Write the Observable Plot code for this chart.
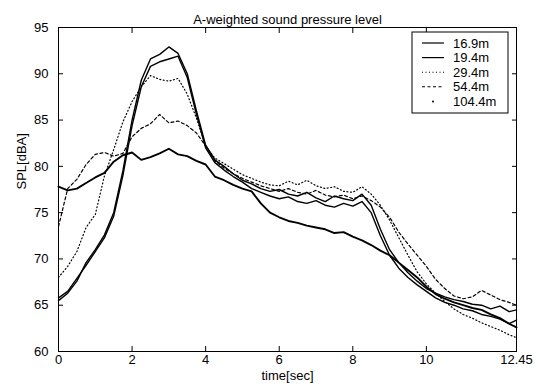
<!DOCTYPE html>
<html>
<head>
<meta charset="utf-8">
<script src="https://cdn.jsdelivr.net/npm/d3@7"></script>
<script src="https://cdn.jsdelivr.net/npm/@observablehq/plot@0.6"></script>
<style>
  html, body { margin: 0; padding: 0; background: #fff; }
  #chart svg { display: block; }
</style>
</head>
<body>
<div id="chart"></div>
<script>
// ---- data ----
const title = "A-weighted sound pressure level";
const xLabel = "time[sec]";
const yLabel = "SPL[dBA]";
const seriesNames = ["16.9m", "19.4m", "29.4m", "54.4m", "104.4m"];
const xTicks = [0, 2, 4, 6, 8, 10, 12.45];
const yTicks = [60, 65, 70, 75, 80, 85, 90, 95];

const time = [0, 0.25, 0.5, 0.75, 1, 1.25, 1.5, 1.75, 2, 2.25, 2.5, 2.75, 3, 3.25, 3.5, 3.75,
  4, 4.25, 4.5, 4.75, 5, 5.25, 5.5, 5.75, 6, 6.25, 6.5, 6.75, 7, 7.25, 7.5, 7.75,
  8, 8.25, 8.5, 8.75, 9, 9.25, 9.5, 9.75, 10, 10.25, 10.5, 10.75, 11, 11.25, 11.5, 11.75,
  12, 12.25, 12.45];

const spl169 = [65.5, 66.3, 67.6, 69.6, 71.0, 72.6, 75.0, 79.5, 85.0, 89.3, 91.6, 92.1, 92.9, 92.2, 90.0, 86.0,
  82.3, 80.7, 80.0, 79.2, 78.5, 78.1, 77.6, 77.3, 77.5, 77.0, 76.8, 77.2, 76.6, 76.2, 76.8, 76.5,
  76.3, 77.0, 75.8, 73.2, 71.0, 69.6, 68.5, 67.6, 66.8, 66.3, 65.9, 65.6, 65.4, 65.1, 65.0, 64.6,
  64.9, 64.3, 64.5];

const spl194 = [65.8, 66.5, 67.9, 69.3, 70.8, 72.3, 74.6, 79.0, 84.4, 88.6, 90.8, 91.3, 91.6, 91.9, 89.6, 85.6,
  82.0, 80.4, 79.6, 78.9, 78.3, 77.6, 77.2, 76.8, 76.5, 76.7, 76.2, 76.0, 76.3, 75.8, 75.6, 76.0,
  75.7, 76.2, 75.0, 72.5, 70.4, 69.0, 68.0, 67.2, 66.5, 65.8, 65.3, 65.0, 64.6, 64.4, 64.0, 63.8,
  63.5, 63.0, 63.4];

const spl294 = [68.0, 69.2, 70.8, 73.4, 74.8, 79.0, 81.8, 84.8, 87.0, 88.6, 89.8, 89.4, 89.2, 89.5, 87.8, 85.2,
  82.2, 80.9, 80.3, 79.7, 79.1, 78.7, 78.3, 78.0, 77.9, 78.4, 78.0, 78.5, 77.9, 77.6, 77.8, 77.3,
  77.2, 77.8, 77.0, 75.8, 74.2, 72.3, 70.4, 68.6, 67.3, 66.3, 65.4, 64.6, 64.0, 63.6, 63.1, 62.7,
  62.3, 61.8, 61.5];

const spl544 = [73.5, 77.6, 78.6, 80.2, 81.3, 81.5, 81.1, 81.4, 83.2, 84.1, 84.6, 85.6, 84.7, 84.9, 84.4, 83.6,
  82.2, 80.6, 79.8, 79.2, 78.7, 78.3, 77.9, 77.6, 77.3, 77.6, 77.2, 77.0, 77.4, 76.9, 76.7, 76.9,
  76.5, 76.8, 76.3, 75.6, 74.5, 72.9, 71.6, 70.4, 69.2, 67.8, 66.8, 66.0, 65.7, 65.9, 66.6, 66.1,
  65.6, 65.3, 65.0];

const spl1044 = [77.8, 77.4, 77.6, 78.2, 78.8, 79.3, 80.5, 81.2, 81.5, 80.7, 81.0, 81.4, 81.9, 81.3, 81.1, 80.6,
  80.2, 78.9, 78.5, 78.0, 77.6, 77.3, 76.0, 75.0, 74.5, 74.1, 73.9, 73.6, 73.4, 73.2, 72.8, 72.9,
  72.4, 72.0, 71.5, 70.9, 70.4, 69.6, 68.8, 68.0, 67.0, 66.2, 65.7, 65.3, 65.0, 64.7, 64.5, 64.0,
  63.6, 63.0, 62.6];

// ---- build table ----
const seriesValues = [spl169, spl194, spl294, spl544, spl1044];
const styles = [
  {strokeWidth: 1.4, strokeDasharray: null},
  {strokeWidth: 1.4, strokeDasharray: null},
  {strokeWidth: 1.2, strokeDasharray: "1,2.5"},
  {strokeWidth: 1.2, strokeDasharray: "3,2.5"},
  {strokeWidth: 1.9, strokeDasharray: null}
];
const rows = seriesNames.map((name, i) => time.map((t, j) => ({t, v: seriesValues[i][j], name})));

const fontFamily = "'Liberation Sans', Arial, Helvetica, sans-serif";
const empty = () => "";

const lineMarks = rows.map((data, i) => Plot.line(data, {
  x: "t", y: "v", stroke: "black",
  strokeWidth: styles[i].strokeWidth,
  strokeDasharray: styles[i].strokeDasharray,
  strokeLinejoin: "round", strokeLinecap: "round"
}));

const chart = Plot.plot({
  width: 540,
  height: 387,
  marginLeft: 58,
  marginRight: 24,
  marginTop: 27,
  marginBottom: 36,
  style: {fontFamily, fontSize: "13px", background: "white", color: "black"},
  x: {domain: [0, 12.45], ticks: xTicks},
  y: {domain: [60, 95], ticks: yTicks},
  marks: [
    ...lineMarks,
    Plot.frame({stroke: "black", strokeWidth: 1}),
    Plot.axisX({anchor: "bottom", ticks: xTicks, tickSize: 0, tickPadding: 3, tickFormat: d => String(d), label: null, fontSize: 13}),
    Plot.axisX({anchor: "bottom", ticks: xTicks, tickSize: -5, tickFormat: empty, label: null}),
    Plot.axisX({anchor: "top", ticks: xTicks, tickSize: -5, tickFormat: empty, label: null}),
    Plot.axisY({anchor: "left", ticks: yTicks, tickSize: 0, tickPadding: 10, tickFormat: d => String(d), label: null, fontSize: 13}),
    Plot.axisY({anchor: "left", ticks: yTicks, tickSize: -5, tickFormat: empty, label: null}),
    Plot.axisY({anchor: "right", ticks: yTicks, tickSize: -5, tickFormat: empty, label: null}),
    Plot.text([title], {frameAnchor: "top", dy: -13, fontSize: 13, fill: "black"}),
    Plot.text([xLabel], {frameAnchor: "bottom", dy: 28, fontSize: 13, fill: "black"}),
    Plot.text([yLabel], {frameAnchor: "left", dx: -37, rotate: -90, fontSize: 13, fill: "black"})
  ]
});

document.getElementById("chart").appendChild(chart);

// ---- legend (drawn inside the axes, upper right) ----
const svg = d3.select(chart);
const lg = svg.append("g").attr("class", "legend").attr("text-anchor", "start");
const box = {x: 412, y: 32, w: 96, h: 81};
lg.append("rect").attr("x", box.x).attr("y", box.y).attr("width", box.w).attr("height", box.h)
  .attr("fill", "white").attr("stroke", "black").attr("stroke-width", 1);
seriesNames.forEach((name, i) => {
  const cy = box.y + 11 + i * 14.6;
  if (i === 4) {
    lg.append("circle").attr("cx", 433).attr("cy", cy).attr("r", 1).attr("fill", "black");
  } else {
    const ln = lg.append("line").attr("x1", 422).attr("x2", 444).attr("y1", cy).attr("y2", cy)
      .attr("stroke", "black").attr("stroke-width", i < 2 ? 1.2 : 1.1);
    if (styles[i].strokeDasharray) ln.attr("stroke-dasharray", styles[i].strokeDasharray);
  }
  lg.append("text").attr("x", 453).attr("y", cy).attr("dy", "0.35em").attr("text-anchor", "start")
    .attr("font-family", fontFamily).attr("font-size", 13).attr("fill", "black").text(name);
});
</script>
</body>
</html>
